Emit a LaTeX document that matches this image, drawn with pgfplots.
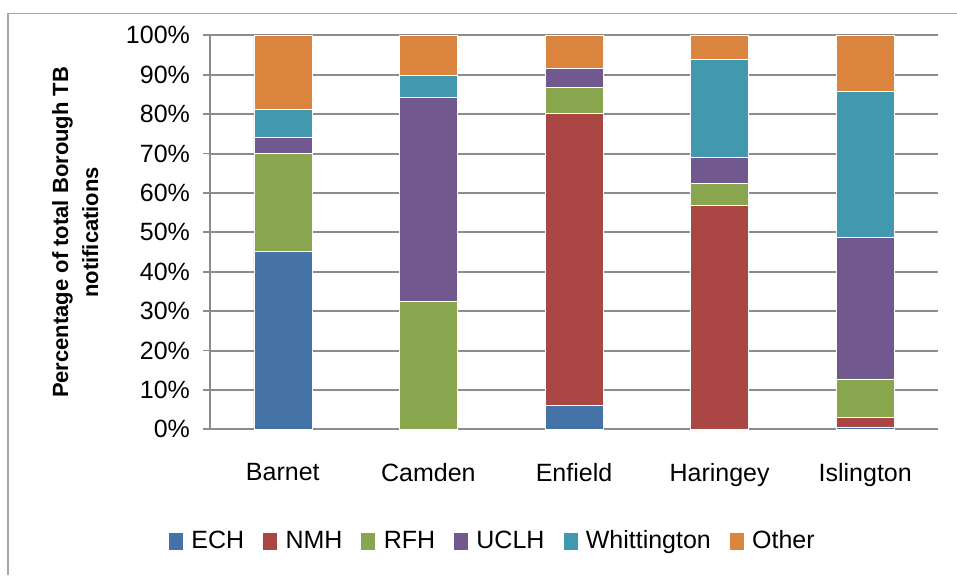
\documentclass[border=0pt]{standalone}
\usepackage{pgfplots}
\usepackage{pgfplotstable}
\pgfplotsset{compat=1.18}
\usepackage{fontspec}
\setmainfont{Liberation Sans}

\definecolor{cECH}{HTML}{4572A7}
\definecolor{cNMH}{HTML}{AA4643}
\definecolor{cRFH}{HTML}{89A54E}
\definecolor{cUCLH}{HTML}{71588F}
\definecolor{cWhit}{HTML}{4198AF}
\definecolor{cOther}{HTML}{DB843D}
\definecolor{gridgray}{HTML}{8C8C8C}

% percentage of borough notifications by hospital
\pgfplotstableread{
x ECH NMH RFH UCLH Whit Other
0 45.1 0.0 25.0 4.0 7.1 18.8
1 0.0 0.0 32.5 51.7 5.7 10.1
2 6.1 74.0 6.7 4.9 0.0 8.3
3 0.0 56.8 5.6 6.7 24.7 6.2
4 0.6 2.4 9.8 35.9 37.0 14.3
}\boroughs

\begin{document}
\begin{tikzpicture}
\path[use as bounding box] (0,0) rectangle (478.5pt,287.5pt);
\draw[gray!70, line width=0.7pt] (4pt,0) -- (4pt,280.75pt) -- (478.5pt,280.75pt);
\begin{axis}[
    at={(105pt,72.85pt)}, anchor=south west,
    scale only axis,
    width=364pt, height=197pt,
    ybar stacked, bar width=29pt,
    xmin=-0.5, xmax=4.5,
    ymin=0, ymax=100,
    xtick={0,1,2,3,4},
    xticklabels={Barnet, Camden, Enfield, Haringey, Islington},
    x tick style={draw=none},
    extra x ticks={-0.5,0.5,1.5,2.5,3.5,4.5},
    extra x tick labels={},
    extra x tick style={major tick length=4pt, tick style={draw=gridgray, line width=0.9pt}, grid=none},
    ytick={0,10,...,100},
    yticklabel={\pgfmathprintnumber{\tick}\%},
    tick align=outside,
    major tick length=3.5pt,
    y tick style={draw=gridgray, line width=0.9pt},
    ymajorgrids,
    grid style={draw=gridgray, line width=1pt},
    axis x line*=bottom, axis y line*=left,
    axis line style={draw=gridgray, line width=1pt, -},
    /pgf/number format/assume math mode=true,
    tick label style={font=\fontsize{12.5}{14}\selectfont},
    xticklabel style={yshift=-10pt},
    yticklabel style={xshift=-3pt},
    ylabel={Percentage of total Borough TB\\notifications},
    ylabel style={font=\fontsize{11}{15}\selectfont\bfseries, align=center, yshift=7pt},
    legend columns=6,
    legend style={draw=none, font=\fontsize{12.5}{14}\selectfont,
        at={(0.39,-0.284)}, anchor=center,
        /tikz/every even column/.append style={column sep=7.5pt}},
    legend image code/.code={\fill[#1, draw=none] (0pt,-4.25pt) rectangle (7pt,4.25pt); \path (9pt,0pt);},
    every axis plot/.append style={draw=white, line width=0.3pt},
]
\addplot[fill=cECH] table[x=x, y=ECH] {\boroughs};
\addplot[fill=cNMH] table[x=x, y=NMH] {\boroughs};
\addplot[fill=cRFH] table[x=x, y=RFH] {\boroughs};
\addplot[fill=cUCLH] table[x=x, y=UCLH] {\boroughs};
\addplot[fill=cWhit] table[x=x, y=Whit] {\boroughs};
\addplot[fill=cOther] table[x=x, y=Other] {\boroughs};
\legend{ECH, NMH, RFH, UCLH, Whittington, Other}
\end{axis}
\end{tikzpicture}
\end{document}
